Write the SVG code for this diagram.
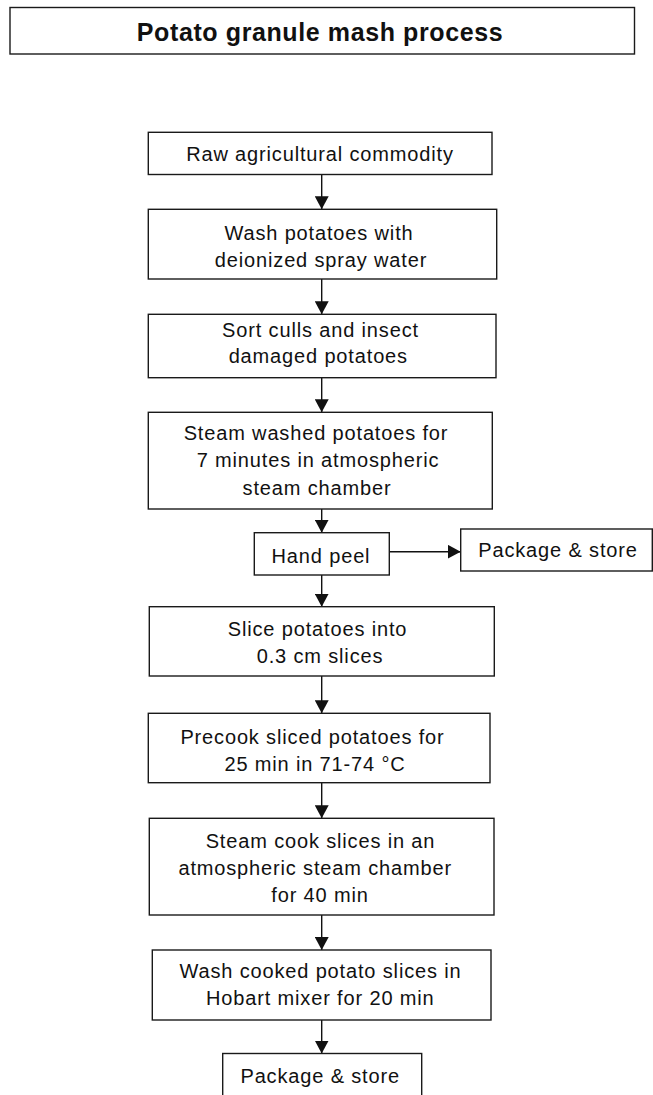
<svg xmlns="http://www.w3.org/2000/svg" width="653" height="1095" viewBox="0 0 653 1095">
<defs>
<style>
.box{fill:#fff;stroke:#1a1a1a;stroke-width:1.4}
.t{font-family:"Liberation Sans",Arial,sans-serif;font-size:20px;letter-spacing:0.85px;fill:#111;text-anchor:middle}
.title{font-family:"Liberation Sans",Arial,sans-serif;font-size:25px;font-weight:bold;letter-spacing:0.6px;fill:#111;text-anchor:middle}
.c{stroke:#111;stroke-width:1.4;fill:none;marker-end:url(#ah)}
</style>
<marker id="ah" markerUnits="userSpaceOnUse" markerWidth="14" markerHeight="14" refX="13" refY="7" orient="auto">
<path d="M0,0 L13,7 L0,14 z" fill="#111"/>
</marker>
</defs>
<rect width="653" height="1095" fill="#fff"/>
<g id="title">
<rect class="box" x="10" y="7.5" width="624.5" height="46.5"/>
<text class="title" x="320" y="41">Potato granule mash process</text>
</g>
<g id="connectors">
<line class="c" x1="321.7" y1="174.5" x2="321.7" y2="209.3"/>
<line class="c" x1="321.7" y1="279" x2="321.7" y2="314.3"/>
<line class="c" x1="321.7" y1="377.7" x2="321.7" y2="412.3"/>
<line class="c" x1="321.7" y1="509" x2="321.7" y2="532.7"/>
<line class="c" x1="389.3" y1="551.7" x2="460.7" y2="551.7"/>
<line class="c" x1="321.7" y1="575" x2="321.7" y2="606.7"/>
<line class="c" x1="321.7" y1="676" x2="321.7" y2="713.3"/>
<line class="c" x1="321.7" y1="782.7" x2="321.7" y2="818.3"/>
<line class="c" x1="321.7" y1="915" x2="321.7" y2="950"/>
<line class="c" x1="321.7" y1="1020" x2="321.7" y2="1053.5"/>
</g>
<g id="n1">
<rect class="box" x="148.3" y="132.3" width="343.7" height="42.2"/>
<text class="t" x="320" y="161">Raw agricultural commodity</text>
</g>
<g id="n2">
<rect class="box" x="148.3" y="209.3" width="348.4" height="69.7"/>
<text class="t" x="319" y="240">Wash potatoes with</text>
<text class="t" x="321" y="266.7">deionized spray water</text>
</g>
<g id="n3">
<rect class="box" x="148.3" y="314.3" width="347.7" height="63.4"/>
<text class="t" x="320.5" y="336.7">Sort culls and insect</text>
<text class="t" x="318.3" y="363.3">damaged potatoes</text>
</g>
<g id="n4">
<rect class="box" x="148.3" y="412.3" width="344" height="96.7"/>
<text class="t" x="316" y="440">Steam washed potatoes for</text>
<text class="t" x="318" y="466.7">7 minutes in atmospheric</text>
<text class="t" x="317" y="495">steam chamber</text>
</g>
<g id="n5">
<rect class="box" x="254.3" y="532.7" width="135" height="42.3"/>
<text class="t" x="321" y="562.7">Hand peel</text>
</g>
<g id="n6">
<rect class="box" x="460.7" y="529" width="191.6" height="42"/>
<text class="t" x="558" y="557.3">Package &amp; store</text>
</g>
<g id="n7">
<rect class="box" x="149.3" y="606.7" width="345" height="69.3"/>
<text class="t" x="317.5" y="636">Slice potatoes into</text>
<text class="t" x="320" y="662.7">0.3 cm slices</text>
</g>
<g id="n8">
<rect class="box" x="148.3" y="713.3" width="341.7" height="69.4"/>
<text class="t" x="312.5" y="744">Precook sliced potatoes for</text>
<text class="t" x="315" y="770.7">25 min in 71-74 °C</text>
</g>
<g id="n9">
<rect class="box" x="149.3" y="818.3" width="344.7" height="96.7"/>
<text class="t" x="320.5" y="848.3">Steam cook slices in an</text>
<text class="t" x="315.2" y="875">atmospheric steam chamber</text>
<text class="t" x="320" y="901.7">for 40 min</text>
</g>
<g id="n10">
<rect class="box" x="152.3" y="950" width="338.7" height="70"/>
<text class="t" x="320.5" y="978.3">Wash cooked potato slices in</text>
<text class="t" x="320.3" y="1005">Hobart mixer for 20 min</text>
</g>
<g id="n11">
<rect class="box" x="222.7" y="1053.5" width="199" height="50"/>
<text class="t" x="320.2" y="1083.3">Package &amp; store</text>
</g>
</svg>
